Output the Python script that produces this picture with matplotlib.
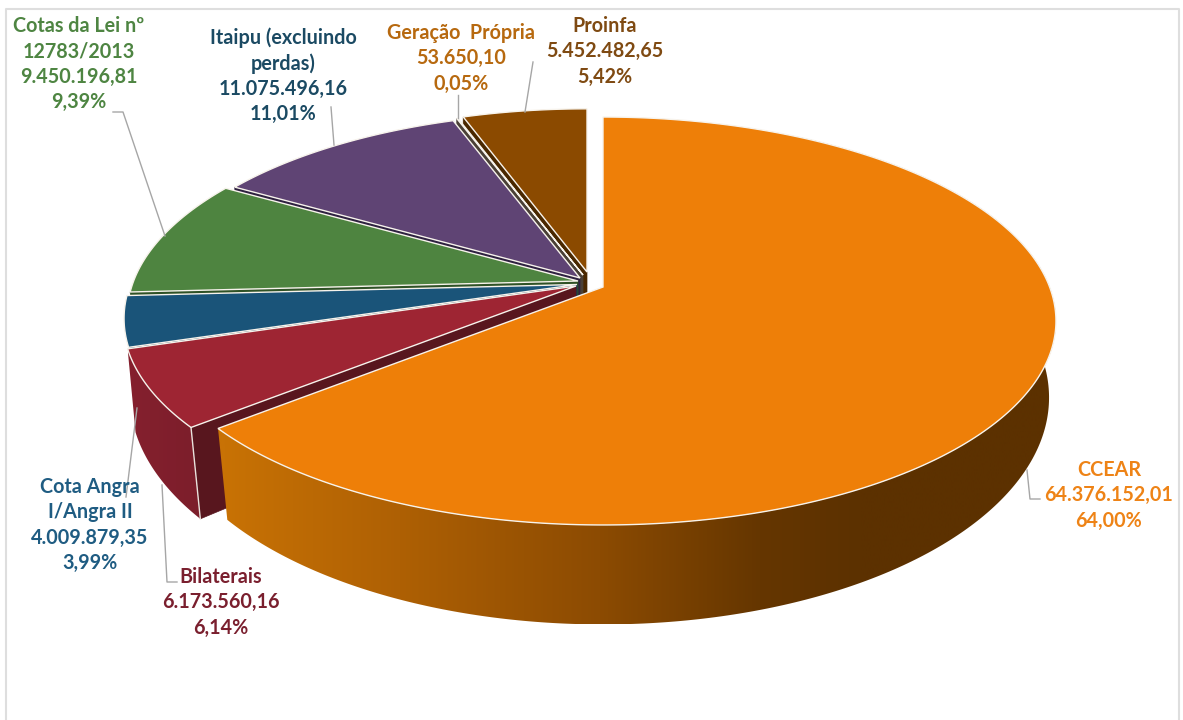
import numpy as np
import matplotlib
matplotlib.use("Agg")
import matplotlib.pyplot as plt
from matplotlib.patches import Polygon

# ---- data (clockwise from 12 o'clock) ----
names = ["CCEAR", "Bilaterais", "Cota Angra\nI/Angra II", "Cotas da Lei nº\n12783/2013",
         "Itaipu (excluindo\nperdas)", "Geração  Própria", "Proinfa"]
values = [64376152.01, 6173560.16, 4009879.35, 9450196.81, 11075496.16, 53650.10, 5452482.65]
value_labels = ["64.376.152,01", "6.173.560,16", "4.009.879,35", "9.450.196,81",
                "11.075.496,16", "53.650,10", "5.452.482,65"]
pct_labels = ["64,00%", "6,14%", "3,99%", "9,39%", "11,01%", "0,05%", "5,42%"]

# ---- styles ----
top_colors = ["#EE7F08", "#9E2533", "#1A5479", "#4E8440", "#5F4474", "#6B5A45", "#8B4A00"]
face_colors = ["#6B3A00", "#58161E", "#123A55", "#2F5226", "#2E2140", "#4A4036", "#4A2800"]
text_colors = ["#EE8316", "#7A1F2E", "#1F5C82", "#4E8542", "#1B4A63", "#B7690F", "#7F4A12"]
apex_x = [603, 576, 577, 578, 580, 583, 587]
apex_y = [287, 286, 284.5, 281, 278, 275, 272]
scale = [1, 1, 1, 0.995, 0.975, 0.97, 0.96]
text_x = [1109, 221, 90, 79, 283, 461, 605]
text_top = [470, 577, 487, 26, 38, 33, 26]
line_gap = 25.4

UP = dict(A=446.6, B=198.3, k=0.1667, dy=0.0)
LOW = dict(A=441.0, B=221.8, k=0.15, dy=76.5)


def project(theta, g, s=1.0):
    u, v = np.sin(theta), np.cos(theta)
    w = 1 + g["k"] * v
    return s * g["A"] * u / w, -s * g["B"] * v / w + g["dy"]


fig = plt.figure(figsize=(11.83, 7.2), dpi=100, facecolor="white")
ax = fig.add_axes([0, 0, 1, 1])
ax.axis("off")

plt.rcParams["font.family"] = ["Lato", "DejaVu Sans"]

# chart frame (open at the bottom)
ax.plot([6.5, 6.5, 1179, 1179], [720, 9, 9, 720], color="#DEDEDE", lw=1.5, zorder=0)

total = sum(values)
edges = np.concatenate([[0], np.cumsum(values)]) / total * 2 * np.pi


def wall(i, stops, t0=None):
    a = edges[i] if t0 is None else t0
    b = edges[i + 1]
    th = np.linspace(a, b, 300)
    ux, uy = project(th, UP, scale[i])
    lx, ly = project(th, LOW, scale[i])
    xs = np.r_[ux, lx[::-1]] + apex_x[i]
    ys = np.r_[uy, ly[::-1]] + apex_y[i]
    clip = Polygon(np.column_stack([xs, ys]), closed=True, transform=ax.transData,
                   facecolor="none", edgecolor="none")
    ax.add_patch(clip)
    x0, x1 = xs.min(), xs.max()
    grid = np.linspace(x0, x1, 800)
    rgb = np.array([matplotlib.colors.to_rgb(p[1]) for p in stops])
    pos = [p[0] for p in stops]
    img = np.stack([np.interp(grid, pos, rgb[:, c]) for c in range(3)], axis=-1)[None, :, :]
    im = ax.imshow(img, extent=[x0, x1, ys.max(), ys.min()], aspect="auto",
                   interpolation="bilinear", zorder=2)
    im.set_clip_path(clip)


def start_face(i):
    t = edges[i]
    rx, ry = project(t, UP, scale[i])
    lx, ly = project(t, LOW, scale[i])
    px, py = apex_x[i], apex_y[i]
    pts = [(px, py), (px + rx, py + ry), (px + lx, py + ly), (px, py + LOW["dy"])]
    ax.add_patch(Polygon(pts, closed=True, facecolor=face_colors[i], edgecolor=face_colors[i], lw=0.5, zorder=2))


def top(i):
    n = max(int(np.degrees(edges[i + 1] - edges[i])) * 3, 4)
    th = np.linspace(edges[i], edges[i + 1], n)
    x, y = project(th, UP, scale[i])
    pts = np.column_stack([np.r_[apex_x[i], x + apex_x[i]], np.r_[apex_y[i], y + apex_y[i]]])
    ax.add_patch(Polygon(pts, closed=True, facecolor=top_colors[i], edgecolor="#F7F3EC",
                         lw=1.0, joinstyle="miter", zorder=2))


RED_STOPS = [(125, "#85202E"), (200, "#7C1E2B")]
ORANGE_STOPS = [(225, "#C87205"), (400, "#AE6004"), (600, "#8C4B02"),
                (760, "#653600"), (860, "#5C3100"), (1060, "#5C3100")]

for i in range(len(values) - 1, -1, -1):
    if i != 0:
        start_face(i)
    if i == 1:
        wall(1, RED_STOPS)
        rx, ry = project(edges[1], UP)
        lx, ly = project(edges[1], LOW)
        ax.plot([apex_x[1] + rx, apex_x[1] + lx], [apex_y[1] + ry, apex_y[1] + ly],
                color="#E9E2DC", lw=1.0, zorder=2)
    if i == 0:
        wall(0, ORANGE_STOPS, t0=np.radians(30))
    top(i)

# leader lines
leaders = [
    ([1040, 1030, 1027], [499, 499, 470]),
    ([177, 167, 162], [582, 582, 485]),
    ([126, 137], [497, 408]),
    ([113, 123, 165], [112, 112, 236]),
    ([331, 334], [107, 145]),
    ([458, 458], [95, 118]),
    ([533, 525], [62, 112]),
]
for lx_, ly_ in leaders:
    ax.plot(lx_, ly_, color="#A6A6A6", lw=1.0, zorder=3)

# labels
for i in range(len(values)):
    lines = names[i].split("\n") + [value_labels[i], pct_labels[i]]
    for j, s in enumerate(lines):
        ax.text(text_x[i], text_top[i] + j * line_gap, s, color=text_colors[i], fontsize=14.2,
                fontweight="bold", ha="center", va="center", family=["Lato", "DejaVu Sans"], zorder=4)

ax.set_xlim(0, 1183)
ax.set_ylim(720, 0)
ax.set_aspect("auto")

fig.savefig("out.png", dpi=100, facecolor="white")
